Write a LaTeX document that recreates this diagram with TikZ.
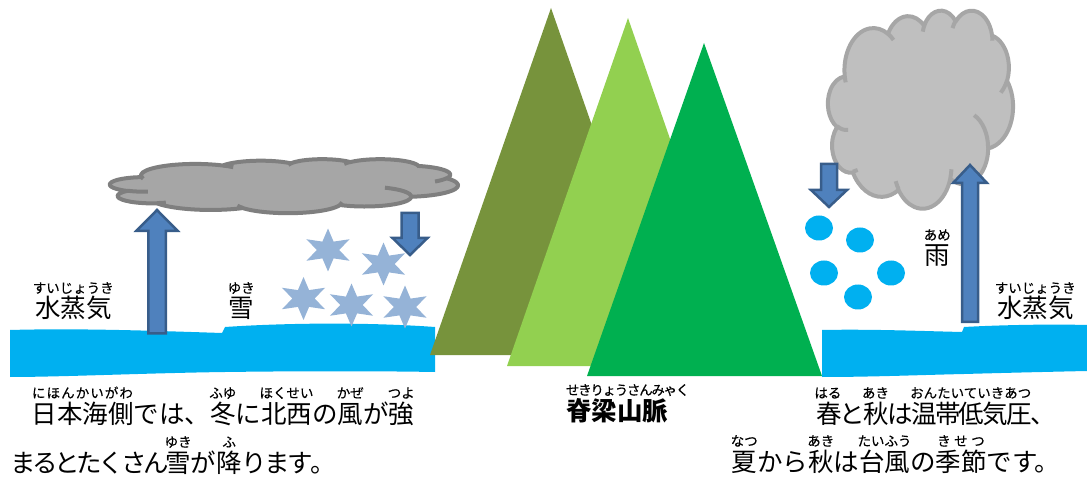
\documentclass[tikz,border=0pt]{standalone}
\usepackage{fontspec}
\newfontfamily\jp{Noto Sans CJK JP}
\newfontfamily\jprb{Noto Sans CJK JP}[FakeBold=0.4]

\definecolor{sea}{HTML}{00B0F0}
\definecolor{mtolive}{HTML}{77933C}
\definecolor{mtlight}{HTML}{92D050}
\definecolor{mtgreen}{HTML}{00B050}
\definecolor{arrowfill}{HTML}{4F81BD}
\definecolor{arrowedge}{HTML}{385D8A}
\definecolor{flakeblue}{HTML}{95B3D7}
\definecolor{snowcloud}{HTML}{A6A6A6}
\definecolor{snowcloudedge}{HTML}{7F7F7F}
\definecolor{raincloud}{HTML}{BFBFBF}
\definecolor{raincloudedge}{HTML}{A6A6A6}

% ---------- furigana ----------
\newsavebox\rbbase
\newsavebox\rbtop
\newcommand\rbfont{\jprb\mdseries\fontsize{13.5}{15}\selectfont}
\def\rbspread#1{\ifx\relax#1\else\hfil#1\hfil\expandafter\rbspread\fi}
% ruby centred over its base, spread out when shorter than the base
\newcommand\rb[2]{\leavevmode
  \sbox\rbbase{#1}\sbox\rbtop{\rbfont #2}%
  \ifdim\wd\rbtop>\wd\rbbase
    \hbox to\wd\rbbase{\hss\raisebox{25pt}{\usebox\rbtop}\hss}\kern-\wd\rbbase
  \else
    \rlap{\raisebox{25pt}{\hbox to\wd\rbbase{\rbfont\rbspread#2\relax}}}%
  \fi
  \usebox\rbbase}
% ruby starting at the left edge of its base
\newcommand\rbl[2]{\leavevmode
  \sbox\rbbase{#1}%
  \rlap{\raisebox{25pt}{\rbfont #2}}\usebox\rbbase}
% characters set on a fixed pitch
\def\fploop#1{\ifx\relax#1\else\hbox to\fpw{#1\hss}\expandafter\fploop\fi}
\newcommand\fixpitch[2]{\def\fpw{#1}\fploop#2\relax}
\newcommand\rp[1]{\fixpitch{23.8pt}{#1}}

% ---------- cloud outline: preset cloud path in a 432 x 432 box ----------
% elliptic arc with start/sweep given as visual angles
\newcommand\clarc[4]{%
  \pgfmathsetmacro\cla{atan2((#1)*sin(#3),(#2)*cos(#3))}%
  \pgfmathsetmacro\clb{atan2((#1)*sin((#3)+(#4)),(#2)*cos((#3)+(#4)))}%
  \pgfmathsetmacro\clc{\cla+mod(\clb-\cla+720,360)}%
  \pgfpatharc{\cla}{\clc}{#1pt and #2pt}}
\newcommand\cloudoutline{%
  \pgfpathmoveto{\pgfpoint{39pt}{143.7pt}}%
  \clarc{67.53}{91.90}{-190.4875}{123.7805}%
  \clarc{53.33}{72.67}{-144.1024}{89.9452}%
  \clarc{43.65}{59.45}{-145.8079}{99.7230}%
  \clarc{48.57}{65.95}{-130.9861}{117.2417}%
  \clarc{53.33}{72.73}{-78.7089}{109.0269}%
  \clarc{67.75}{92.20}{-46.2673}{130.2690}%
  \clarc{57.85}{78.67}{0.6250}{114.0333}%
  \clarc{67.52}{92.15}{22.4516}{115.1726}%
  \clarc{77.20}{105.43}{66.2426}{75.7110}%
  \clarc{43.60}{59.18}{-274.9421}{146.7356}%
  \clarc{43.45}{59.45}{-246.8285}{152.5189}%
  \pgfpathclose}
\newcommand\cloudcreases{%
  \pgfpathmoveto{\pgfpoint{46.93pt}{261.77pt}}\clarc{43.45}{59.45}{86.7420}{26.4295}%
  \pgfpathmoveto{\pgfpoint{69.28pt}{348.99pt}}\clarc{43.60}{59.18}{73.6105}{11.4475}%
  \pgfpathmoveto{\pgfpoint{164.78pt}{390.90pt}}\clarc{67.52}{92.15}{137.6242}{14.0811}%
  \pgfpathmoveto{\pgfpoint{288.27pt}{347.51pt}}\clarc{67.52}{92.15}{6.4533}{15.9984}%
  \pgfpathmoveto{\pgfpoint{341.29pt}{229.54pt}}\clarc{57.85}{78.67}{-70.2924}{70.9174}%
  \pgfpathmoveto{\pgfpoint{417.98pt}{153.54pt}}\clarc{53.33}{72.73}{30.3180}{27.7515}%
  \pgfpathmoveto{\pgfpoint{383.24pt}{54.26pt}}\clarc{48.57}{65.95}{-13.7443}{14.8589}%
  \pgfpathmoveto{\pgfpoint{290.78pt}{39.52pt}}\clarc{48.57}{65.95}{-149.1815}{18.1954}%
  \pgfpathmoveto{\pgfpoint{221.41pt}{47.20pt}}\clarc{43.65}{59.45}{-163.4943}{17.6864}%
  \pgfpathmoveto{\pgfpoint{140.00pt}{51.92pt}}\clarc{67.53}{91.90}{-66.7070}{12.3194}%
  \pgfpathmoveto{\pgfpoint{41.27pt}{157.89pt}}\clarc{67.53}{91.90}{157.6544}{11.8582}}
\newcommand\drawcloud[2]{% fill colour, edge colour
  \pgfsetlinewidth{4pt}\pgfsetroundjoin
  \pgfsetfillcolor{#1}\pgfsetstrokecolor{#2}%
  \cloudoutline\pgfusepath{fill,stroke}%
  \cloudcreases\pgfusepath{stroke}}

% block arrow: centre x, tail y, tip y, head-base y, half shaft, half head
\newcommand\blockarrow[6]{%
  \draw[blockarrow] (#1-#5,#2) -- (#1-#5,#4) -- (#1-#6,#4) -- (#1,#3)
    -- (#1+#6,#4) -- (#1+#5,#4) -- (#1+#5,#2) -- cycle;}

\begin{document}
\begin{tikzpicture}[x=1pt,y=-1pt,
  txt/.style={inner sep=0pt, outer sep=0pt, anchor=base west,
    font=\jp\fontsize{25.5}{30}\selectfont},
  blockarrow/.style={fill=arrowfill, draw=arrowedge, line width=2.5pt},
  flake/.pic={\fill[flakeblue, xscale=1.155] (90:21.5pt)
      \foreach \a in {90,150,...,390} { -- (\a:21.5pt) -- (\a+30:9.7pt) } -- cycle;},
  drop/.style={fill=sea}]
\useasboundingbox (0,0) rectangle (1087,478);

% sea, west side
\fill[sea] (10,330) .. controls (80,328) and (160,331) .. (222,333)
  -- (225,327) .. controls (300,322) and (380,323) .. (435,327)
  -- (435,372) .. controls (380,371) and (300,371) .. (225,372)
  .. controls (150,373) and (60,377) .. (10,377) -- cycle;

% mountain range
\fill[mtolive] (430,355) -- (551,8) -- (672,355) -- cycle;
\fill[mtlight] (507,366) -- (628,18) -- (749,366) -- cycle;
\fill[mtgreen] (587,376) -- (704,43) -- (822,376) -- cycle;

% sea, east side
\fill[sea] (822,330) .. controls (870,329) and (920,331) .. (962,332)
  -- (964,327) .. controls (1000,325) and (1050,324) .. (1087,325)
  -- (1087,371) .. controls (1040,372) and (1000,373) .. (964,374)
  .. controls (920,375) and (870,377) .. (822,377) -- cycle;

% clouds
\begin{scope}[shift={(110,159)}, xscale=0.80556, yscale=-0.125]
  \drawcloud{snowcloud}{snowcloudedge}
\end{scope}
\begin{scope}[shift={(828,10)}, xscale=0.42824, yscale=-0.45833]
  \drawcloud{raincloud}{raincloudedge}
\end{scope}

% snow
\pic at (328,250) {flake};
\pic at (383.5,264) {flake};
\pic at (303.5,298.5) {flake};
\pic at (351.5,305) {flake};
\pic at (405,307) {flake};

% rain
\fill[drop] (819,228) ellipse [x radius=14pt, y radius=12.5pt];
\fill[drop] (860,240) ellipse [x radius=14pt, y radius=12.5pt];
\fill[drop] (824,273) ellipse [x radius=14pt, y radius=12.5pt];
\fill[drop] (891,273) ellipse [x radius=14pt, y radius=12.5pt];
\fill[drop] (858,297) ellipse [x radius=14pt, y radius=12.5pt];

% vapour rising, precipitation falling
\blockarrow{157}{333.5}{210}{231}{8.75}{20.75}
\blockarrow{410}{213}{255}{238}{8.5}{17.5}
\blockarrow{829}{164}{207}{190}{8}{18}
\blockarrow{970}{322}{165}{183}{8}{17}

% labels
\node[txt] (vapourW) at (35,318) {\rb{水蒸気}{すいじょうき}};
\node[txt] (snow) at (228.5,318) {\rb{雪}{ゆき}};
\node[txt] (rain) at (924.5,265) {\rb{雨}{あめ}};
\node[txt] (vapourE) at (997,318) {\rb{水蒸気}{すいじょうき}};
\node[txt] (range) at (566,420)
  {\bfseries\rbl{脊梁山脈}{\fixpitch{12.2pt}{せきりょうさんみゃく}}};

\node[txt] (westA) at (31.5,423)
  {\rb{日本海側}{にほんかいがわ}では、\rb{冬}{ふゆ}に\rb{北西}{ほくせい}の\rb{風}{かぜ}が\rb{強}{つよ}};
\node[txt] (westB) at (10,472)
  {\fixpitch{22.2pt}{まるとたくさん}\rb{雪}{ゆき}が\rb{降}{ふ}\fixpitch{23pt}{ります。}};
\node[txt] (eastA) at (816,423)
  {\rb{\rp{春}}{はる}\rp{と}\rb{\rp{秋}}{あき}\rp{は}\rb{\rp{温帯低気圧}}{おんたいていきあつ}\rp{、}};
\node[txt] (eastB) at (731.5,471)
  {\rb{夏}{なつ}から\rb{秋}{あき}は\rb{台風}{たいふう}の\rb{季節}{きせつ}です。};
\end{tikzpicture}
\end{document}
